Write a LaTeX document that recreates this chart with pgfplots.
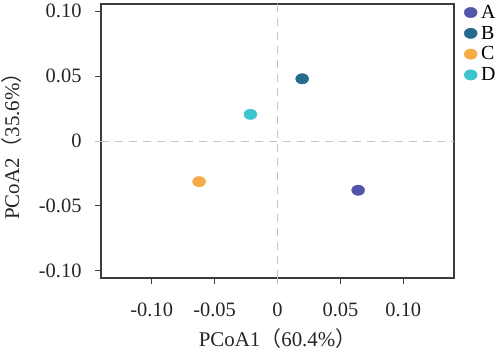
\documentclass[border=0pt]{standalone}
\usepackage{pgfplots}
\pgfplotsset{compat=1.18}
\usepackage{fontspec}
\setmainfont{Liberation Serif}
\newfontfamily\cjk{Noto Sans CJK SC}
\definecolor{cA}{RGB}{82,86,168}
\definecolor{cB}{RGB}{38,106,142}
\definecolor{cC}{RGB}{247,170,70}
\definecolor{cD}{RGB}{62,196,206}
\definecolor{axcol}{RGB}{60,60,60}
\begin{document}
\begin{tikzpicture}[x=1bp,y=1bp]
\useasboundingbox (-101,-77) rectangle (399,278);
\begin{axis}[at={(0,0)}, anchor=south west, scale only axis,
  width=353bp, height=274bp,
  xmin=-0.1403, xmax=0.1403, ymin=-0.1055, ymax=0.1055,
  axis line style={draw=axcol, line width=1.2bp},
  tick align=outside, major tick length=6bp,
  tick style={axcol, line width=1bp},
  xtick pos=bottom, ytick pos=left,
  xtick={-0.1,-0.05,0.05,0.1}, xticklabels={-0.10,-0.05,0.05,0.10},
  ytick={-0.1,-0.05,0.05,0.1}, yticklabels={-0.10,-0.05,0.05,0.10},
  extra x ticks={0}, extra x tick labels={0},
  extra y ticks={0}, extra y tick labels={0},
  extra tick style={tick style={gray!50, line width=1bp}},
  ticklabel style={font=\fontsize{20.5}{24}\selectfont, text=black!85},
  xticklabel style={yshift=-15bp},
  yticklabel style={xshift=-10bp},
  xlabel={PCoA1{\cjk（}60.4\%{\cjk）}},
  ylabel={PCoA2{\cjk（}35.6\%{\cjk）}},
  xlabel style={yshift=7bp},
  ylabel style={yshift=-1bp},
  label style={font=\fontsize{21}{24}\selectfont, text=black!85},
  legend style={draw=none, fill=none, at={(1,1)}, anchor=north west, xshift=8bp, yshift=2bp,
    font=\fontsize{20}{20}\selectfont, row sep=4.2bp, inner sep=2bp,
    nodes={inner sep=1bp}},
  legend cell align=left,
  clip=false,
]
\draw[gray!45, line width=1bp, dash pattern=on 8bp off 6bp] (axis cs:-0.1403,0) -- (axis cs:0.1403,0);
\draw[gray!45, line width=1bp, dash pattern=on 8bp off 6bp] (axis cs:0,-0.1055) -- (axis cs:0,0.1055);
\addplot[only marks, mark=*, mark size=5.2bp, mark options={xscale=1.25, draw=cA, fill=cA}] coordinates {(0.0641,-0.0379)};
\addlegendentry{\hspace{3bp}A}
\addplot[only marks, mark=*, mark size=5.2bp, mark options={xscale=1.25, draw=cB, fill=cB}] coordinates {(0.0196,0.0479)};
\addlegendentry{\hspace{3bp}B}
\addplot[only marks, mark=*, mark size=5.2bp, mark options={xscale=1.25, draw=cC, fill=cC}] coordinates {(-0.0623,-0.0313)};
\addlegendentry{\hspace{3bp}C}
\addplot[only marks, mark=*, mark size=5.2bp, mark options={xscale=1.25, draw=cD, fill=cD}] coordinates {(-0.0215,0.0205)};
\addlegendentry{\hspace{3bp}D}
\end{axis}
\end{tikzpicture}
\end{document}
